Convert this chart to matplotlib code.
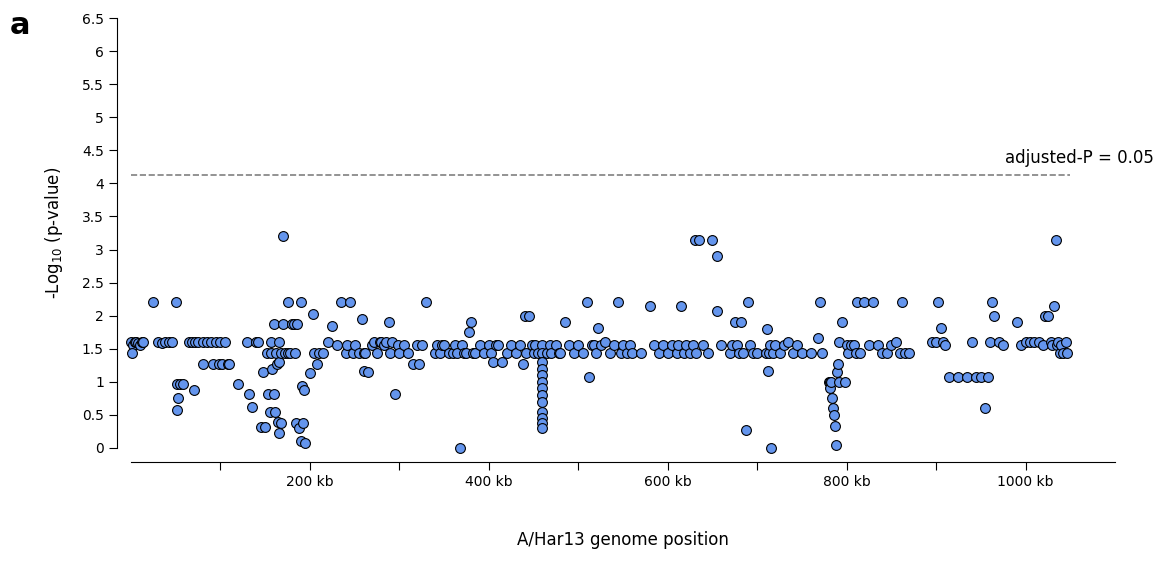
import matplotlib
matplotlib.use("Agg")
import matplotlib.pyplot as plt

position_kb = [
 0,2,4,6,8,10,12,14,1,
 25,30,35,38,42,46,50,52,53,52,55,58,65,68,70,72,75,80,80,85,90,92,95,98,100,102,105,108,110,120,
 130,132,135,140,142,145,148,150,
 152,153,155,156,157,158,160,160,161,162,163,164,165,165,166,168,168,170,172,175,
 170,175,178,180,182,183,185,186,188,190,190,191,192,193,195,
 200,203,205,208,210,215,220,225,230,235,240,242,245,248,250,255,258,260,260,262,265,
 270,272,275,278,280,283,285,288,290,292,295,298,300,305,310,315,320,322,325,330,
 340,342,345,348,350,355,360,362,365,368,370,372,375,378,380,382,385,
 390,395,400,402,405,408,410,415,420,425,430,435,438,440,442,445,448,450,452,455,
 460,460,460,460,460,460,460,460,460,460,460,460,460,
 465,468,470,475,478,480,485,490,495,500,505,510,512,515,518,520,522,525,530,535,540,545,548,550,555,558,560,
 570,580,585,590,595,600,605,610,612,615,618,620,625,628,630,632,635,640,645,650,655,655,660,
 670,672,675,678,680,682,684,688,690,692,695,700,
 710,711,712,713,714,715,718,720,725,730,735,740,745,750,760,768,770,772,
 780,781,782,783,784,785,786,787,788,789,790,791,792,795,798,
 800,802,805,808,810,812,815,820,825,830,835,840,845,850,855,860,862,865,870,
 895,900,902,905,908,910,915,925,935,940,945,950,955,958,960,962,965,970,975,
 990,995,1000,1005,1010,1015,1020,1022,1025,1028,1030,1032,1034,1035,1036,1038,1040,1042,1045,1046]

neglog10_p = [
 1.6,1.55,1.6,1.6,1.58,1.55,1.6,1.6,1.43,
 2.2,1.6,1.58,1.6,1.6,1.6,2.2,0.97,0.75,0.57,0.97,0.97,1.6,1.6,0.88,1.6,1.6,1.27,1.6,1.6,1.6,1.27,1.6,1.27,1.6,1.27,1.6,1.27,1.27,0.97,
 1.6,0.82,0.62,1.6,1.6,0.32,1.15,0.32,
 1.43,0.82,0.55,1.6,1.43,1.2,0.82,1.87,0.55,1.43,1.27,0.4,1.6,1.3,0.22,0.38,1.43,1.87,1.43,1.43,
 3.2,2.2,1.43,1.87,1.87,1.43,0.38,1.87,0.3,2.2,0.1,0.93,0.38,0.88,0.07,
 1.13,2.03,1.43,1.27,1.43,1.43,1.6,1.85,1.55,2.2,1.43,1.55,2.2,1.43,1.55,1.43,1.95,1.17,1.43,1.43,1.15,
 1.55,1.6,1.43,1.6,1.6,1.55,1.6,1.9,1.43,1.6,0.82,1.55,1.43,1.55,1.43,1.27,1.55,1.27,1.55,2.2,
 1.43,1.55,1.43,1.55,1.55,1.43,1.43,1.55,1.43,0.0,1.55,1.43,1.43,1.75,1.9,1.43,1.43,
 1.55,1.43,1.55,1.43,1.3,1.55,1.55,1.3,1.43,1.55,1.43,1.55,1.27,2.0,1.43,2.0,1.55,1.43,1.55,1.43,
 1.55,1.43,1.3,1.2,1.1,1.0,0.9,0.8,0.7,0.55,0.45,0.38,0.3,
 1.43,1.55,1.43,1.55,1.43,1.43,1.9,1.55,1.43,1.55,1.43,2.2,1.08,1.55,1.55,1.43,1.82,1.55,1.6,1.43,1.55,2.2,1.43,1.55,1.43,1.55,1.43,
 1.43,2.15,1.55,1.43,1.55,1.43,1.55,1.43,1.55,2.15,1.43,1.55,1.43,1.55,3.15,1.43,3.15,1.55,1.43,3.15,2.9,2.07,1.55,
 1.43,1.55,1.9,1.55,1.43,1.9,1.43,0.27,2.2,1.55,1.43,1.43,
 1.43,1.8,1.17,1.43,1.55,0.0,1.43,1.55,1.43,1.55,1.6,1.43,1.55,1.43,1.43,1.67,2.2,1.43,
 1.0,1.0,0.9,1.0,0.75,0.6,0.5,0.33,0.05,1.15,1.27,1.6,1.0,1.9,1.0,
 1.55,1.43,1.55,1.55,1.43,2.2,1.43,2.2,1.55,2.2,1.55,1.43,1.43,1.55,1.6,1.43,2.2,1.43,1.43,
 1.6,1.6,2.2,1.82,1.6,1.55,1.07,1.07,1.07,1.6,1.07,1.07,0.6,1.07,1.6,2.2,2.0,1.6,1.55,
 1.9,1.55,1.6,1.6,1.6,1.6,1.55,2.0,2.0,1.6,1.55,2.15,3.15,1.55,1.6,1.43,1.55,1.43,1.6,1.43]

threshold = 4.13

fig = plt.figure(figsize=(11.63, 5.63), dpi=100)
ax = fig.add_axes([0.1126, 0.2043, 0.8461, 0.7637])
ax.scatter(position_kb, neglog10_p, s=50, color="#6495ED", edgecolor="black", linewidth=0.8, zorder=3, clip_on=False)
ax.plot([0, 1050], [threshold, threshold], ls="--", color="gray", lw=1.2)
ax.text(1143, threshold + 0.12, "adjusted-P = 0.05", ha="right", va="bottom", fontsize=12)
ax.set_xlim(0, 1100)
ax.set_ylim(0, 6.5)
ax.set_xticks(range(100, 1100, 100))
ax.set_xticklabels(["" if v % 200 else f"{v} kb" for v in range(100, 1100, 100)], fontsize=12)
ax.set_yticks([i * 0.5 for i in range(14)])
ax.set_yticklabels(["0", "0.5", "1", "1.5", "2", "2.5", "3", "3.5", "4", "4.5", "5", "5.5", "6", "6.5"], fontsize=12)
for s in ["top", "right"]:
    ax.spines[s].set_visible(False)
ax.spines["left"].set_position(("outward", 10))
ax.spines["bottom"].set_position(("outward", 10))
ax.tick_params(length=6)
ax.set_xlabel("A/Har13 genome position", fontsize=12, labelpad=30)
ax.set_ylabel("-Log$_{10}$ (p-value)", fontsize=12, labelpad=12)
fig.text(0.008, 0.94, "a", fontsize=22, fontweight="bold")
fig.savefig("out.png", dpi=100)
